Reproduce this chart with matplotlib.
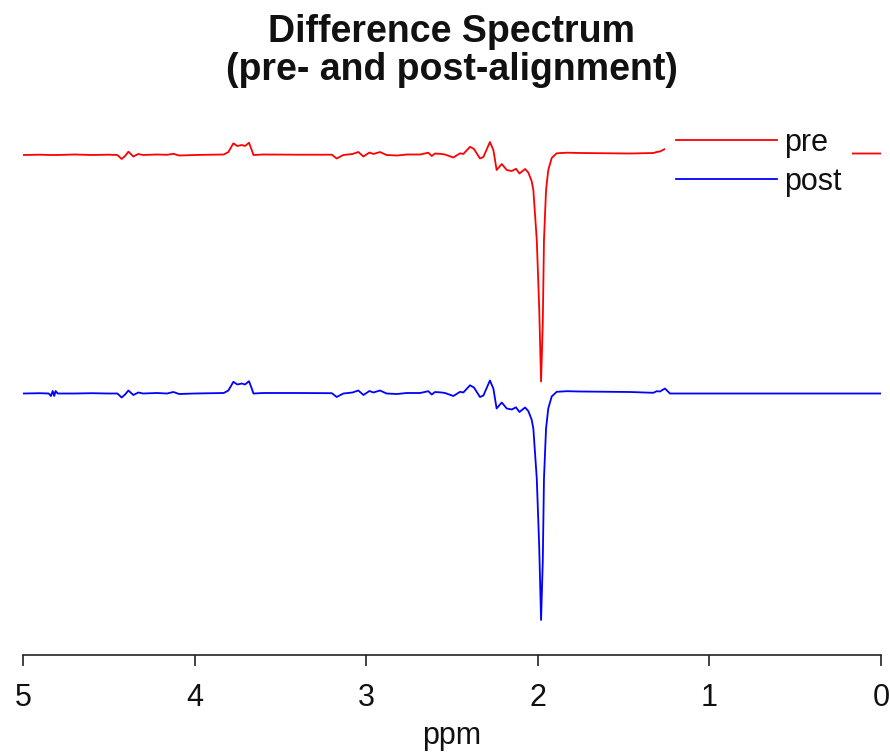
import matplotlib
matplotlib.use("Agg")
import matplotlib.pyplot as plt

plt.rcParams['font.family'] = ['Liberation Sans', 'DejaVu Sans']

# chemical shift (ppm) and signal (arbitrary units) for both spectra
ppm = [5.00, 4.90, 4.85, 4.837, 4.827, 4.818, 4.810, 4.798, 4.70, 4.60, 4.50, 4.45,
       4.425, 4.405, 4.386, 4.357, 4.328, 4.30, 4.22, 4.16, 4.124, 4.09, 4.00, 3.90,
       3.83, 3.803, 3.774, 3.751, 3.725, 3.706, 3.683, 3.667, 3.657, 3.60, 3.40, 3.20,
       3.172, 3.133, 3.08, 3.046, 3.016, 2.981, 2.958, 2.920, 2.881, 2.82, 2.764,
       2.745, 2.686, 2.638, 2.618, 2.599, 2.560, 2.541, 2.492, 2.453, 2.434, 2.395,
       2.372, 2.337, 2.317, 2.279, 2.259, 2.240, 2.210, 2.181, 2.152, 2.127, 2.107,
       2.074, 2.055, 2.036, 2.026, 2.006, 1.992, 1.981, 1.971, 1.964, 1.952, 1.939,
       1.919, 1.890, 1.831, 1.754, 1.638, 1.463, 1.327, 1.307, 1.288, 1.259, 1.230,
       1.055, 0.472, 0.00]

pre = [0.0, 0.3, 0.0, 0.0, 0.0, 0.0, 0.0, 0.0, 0.5, 0.0, 0.3, 0.0,
       -4.0, -1.0, 3.3, -1.5, 1.0, 0.0, 0.5, 0.2, 1.2, -0.5, 0.0, 0.3,
       0.5, 3.0, 11.7, 9.0, 10.0, 9.0, 12.3, 5.0, 0.0, 0.5, 0.3, 0.3,
       -3.5, 0.0, 1.0, 3.0, -1.5, 2.5, 1.0, 3.0, 0.0, -0.5, 0.5,
       0.5, 0.5, 2.3, -1.0, 1.5, 1.0, 0.5, -2.5, 1.7, 1.0, 8.2,
       6.0, -3.5, -2.0, 13.0, 5.0, -15.0, -9.0, -15.0, -16.0, -13.8, -18.5,
       -14.0, -17.7, -26.0, -35.0, -85.0, -152.0, -226.5, -168.0, -85.0, -35.0, -15.0,
       -3.0, 1.7, 2.3, 2.0, 1.8, 1.5, 2.0, 3.0, 3.5, 6.0, 5.0,
       2.0, 1.5, 1.5]

post = [0.0, 0.3, 0.0, -2.5, 2.5, -2.5, 2.5, 0.0, 0.0, 0.3, 0.0, 0.0,
        -4.0, -1.0, 3.0, -1.5, 1.0, 0.0, 0.5, 0.0, 1.5, -0.5, 0.0, 0.3,
        0.5, 3.0, 11.7, 9.0, 10.0, 9.0, 12.3, 5.0, 0.0, 0.5, 0.5, 0.3,
        -3.5, 0.0, 1.0, 3.0, -1.5, 2.5, 1.0, 3.0, 0.0, -0.5, 0.5,
        0.5, 0.5, 2.3, -1.0, 1.5, 1.0, 0.5, -2.5, 1.7, 1.0, 8.2,
        6.0, -3.5, -2.0, 13.0, 5.0, -15.0, -9.0, -15.0, -16.0, -13.8, -18.5,
        -14.0, -17.7, -26.0, -35.0, -85.0, -152.0, -226.5, -168.0, -85.0, -35.0, -15.0,
        -3.0, 1.7, 2.3, 2.0, 1.8, 1.5, 0.7, 2.3, 2.0, 5.0, 0.0,
        0.0, 0.0, 0.0]

pre_offset = 238.5
series_labels = ['pre', 'post']
title = 'Difference Spectrum\n(pre- and post-alignment)'
xticks = [5, 4, 3, 2, 1, 0]

W, H = 890, 755
fig = plt.figure(figsize=(W / 100, H / 100), dpi=100)
ax = fig.add_axes([23 / W, 100 / H, 858 / W, 545 / H])

l1, = ax.plot(ppm, [v + pre_offset for v in pre], color='#ff0000', lw=1.3, label=series_labels[0])
l2, = ax.plot(ppm, post, color='#0000ff', lw=1.3, label=series_labels[1])

ax.set_xlim(5, 0)
ax.set_ylim(-261.5, 283.5)
for s in ['left', 'right', 'top']:
    ax.spines[s].set_visible(False)
ax.spines['bottom'].set_linewidth(1.2)
ax.spines['bottom'].set_color('#222222')
ax.set_yticks([])
ax.set_xticks(xticks)
ax.set_xticklabels([str(t) for t in xticks])
ax.tick_params(axis='x', direction='out', length=8, width=1.2, color='#222222',
               labelsize=22, pad=12, labelcolor='#111111')
ax.set_xlabel('ppm', fontsize=22, labelpad=6, color='#111111')

fig.text(452 / W, 1 - 51 / H, title, ha='center', va='center', fontsize=27,
         fontweight='bold', color='#111111', linespacing=1.1)

leg = ax.legend(handles=[l1, l2], loc='upper left', bbox_to_anchor=(665 / W, 1 - 117 / H),
                bbox_transform=fig.transFigure, fontsize=22, frameon=True,
                handlelength=3.3, handletextpad=0.25, borderpad=0.35, borderaxespad=0,
                labelspacing=0.3, fancybox=False)
leg.get_frame().set_facecolor('white')
leg.get_frame().set_edgecolor('none')
leg.get_frame().set_alpha(1)
for t in leg.get_texts():
    t.set_color('#111111')

fig.savefig('out.png', dpi=100)
